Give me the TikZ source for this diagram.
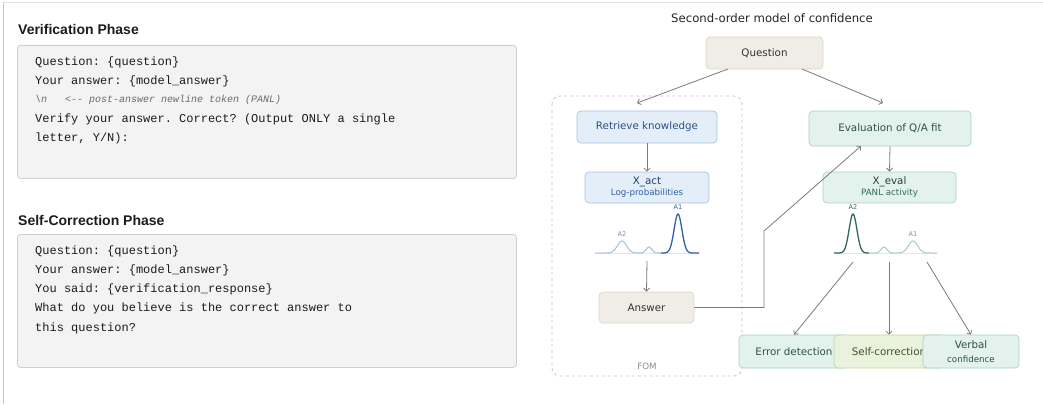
\documentclass[tikz,border=0pt]{standalone}
\usepackage{fontspec}
\setmainfont{Liberation Sans}
\setmonofont{Liberation Mono}
\newfontfamily\djsans{DejaVu Sans}
\usetikzlibrary{arrows.meta,positioning}

\definecolor{boxline}{HTML}{CFCFCF}
\definecolor{boxfill}{HTML}{F3F3F3}
\definecolor{codetxt}{HTML}{1C1C1C}
\definecolor{notegray}{HTML}{6A6A6A}
\definecolor{framegray}{HTML}{C8C8C8}
\definecolor{beigefill}{HTML}{F0EDE6}
\definecolor{beigeline}{HTML}{DCD6C8}
\definecolor{bluefill}{HTML}{E4EEF9}
\definecolor{blueline}{HTML}{A8C3E3}
\definecolor{bluetxt}{HTML}{2B5283}
\definecolor{bluedark}{HTML}{2F62A8}
\definecolor{bluelight}{HTML}{A3BFE2}
\definecolor{bluebase}{HTML}{DCE7F4}
\definecolor{greenfill}{HTML}{E3F2EC}
\definecolor{greenline}{HTML}{A9D2C1}
\definecolor{greentxt}{HTML}{2D5244}
\definecolor{greendark}{HTML}{2F6B50}
\definecolor{greenlight}{HTML}{A6CCBA}
\definecolor{greenbase}{HTML}{DCECE5}
\definecolor{olivefill}{HTML}{E9F2DC}
\definecolor{oliveline}{HTML}{BFD8A2}
\definecolor{olivetxt}{HTML}{3F5227}
\definecolor{arrgray}{HTML}{7A7A7A}
\definecolor{fomgray}{HTML}{C4C4C4}

\begin{document}
\begin{tikzpicture}[x=1pt,y=-1pt,
    phase/.style={anchor=base west, inner sep=0pt, text=codetxt, font=\bfseries\fontsize{14}{16}\selectfont},
    promptbox/.style={draw=boxline, fill=boxfill, rounded corners=3pt, line width=0.8pt, anchor=north west, inner sep=0pt},
    codeline/.style={anchor=base west, inner sep=0pt, text=codetxt, font=\ttfamily\fontsize{12}{14}\selectfont},
    noteline/.style={anchor=base west, inner sep=0pt, text=notegray, font=\ttfamily\itshape\fontsize{10}{12}\selectfont},
    box/.style={rounded corners=4pt, line width=0.7pt, inner sep=0pt, align=center, font=\djsans\fontsize{10.3}{12}\selectfont},
    beige/.style={box, draw=beigeline, fill=beigefill, text=black!80},
    bluebox/.style={box, draw=blueline, fill=bluefill, text=bluetxt},
    greenbox/.style={box, draw=greenline, fill=greenfill, text=greentxt},
    olivebox/.style={box, draw=oliveline, fill=olivefill, text=olivetxt},
    lbl/.style={inner sep=0pt, font=\djsans\fontsize{10.3}{12}\selectfont},
    sublbl/.style={inner sep=0pt, font=\djsans\fontsize{8.7}{10}\selectfont},
    peak/.style={inner sep=0pt, font=\djsans\fontsize{6.5}{8}\selectfont},
    arr/.style={draw=arrgray, line width=0.8pt, -{Straight Barb[length=3pt,width=6pt]}}]
    \useasboundingbox (0,0) rectangle (1043,404);
    \draw[framegray!50, line width=0.6pt] (3,2) -- (1043,2);
    \draw[framegray, line width=0.8pt] (3,2) -- (3,404);

    % prompts
    \node[phase] (vtitle) at (18,35) {Verification Phase};
    \node[promptbox, minimum width=499, minimum height=133] (vbox) at (17,45) {};
    \node[codeline] (v1) at (35,65) {Question: \{question\}};
    \node[codeline] (v2) at (35,84) {Your answer: \{model\_answer\}};
    \node[noteline] (v3) at (35,102) {\textbackslash n\ \ \ <-- post-answer newline token (PANL)};
    \node[codeline] (v4) at (35,122) {Verify your answer. Correct? (Output ONLY a single};
    \node[codeline] (v5) at (35,141) {letter, Y/N):};

    \node[phase] (stitle) at (18,225) {Self-Correction Phase};
    \node[promptbox, minimum width=499, minimum height=133] (sbox) at (17,234) {};
    \node[codeline] (s1) at (35,254) {Question: \{question\}};
    \node[codeline] (s2) at (35,273) {Your answer: \{model\_answer\}};
    \node[codeline] (s3) at (35,292) {You said: \{verification\_response\}};
    \node[codeline] (s4) at (35,311) {What do you believe is the correct answer to};
    \node[codeline] (s5) at (35,331) {this question?};

    % second-order model
    \node[lbl, font=\djsans\fontsize{11.7}{14}\selectfont, text=black!85] (ttl) at (772,18) {Second-order model of confidence};
    \node[beige, minimum width=117, minimum height=32] (q) at (764.5,53) {Question};
    \draw[fomgray, dashed, line width=0.8pt, rounded corners=8pt] (552,96) rectangle (742,376);
    \node[sublbl, text=black!45] (fom) at (647,366) {FOM};

    \node[bluebox, minimum width=140, minimum height=32] (ret) at (647,127) {Retrieve knowledge};
    \node[bluebox, minimum width=124, minimum height=31] (xact) at (647,187.5) {};
    \node[lbl, text=bluetxt!80!black] (xactT) at (647,182) {X\_act};
    \node[sublbl, text=bluedark] (xactS) at (647,193.5) {Log-probabilities};
    \node[beige, minimum width=95, minimum height=31] (ans) at (646.5,307.5) {Answer};

    \node[greenbox, minimum width=162, minimum height=35] (eval) at (890,128.5) {Evaluation of Q/A fit};
    \node[greenbox, minimum width=133, minimum height=31] (xeval) at (889.5,187.5) {};
    \node[lbl, text=greentxt!80!black] (xevalT) at (889.5,182) {X\_eval};
    \node[sublbl, text=greendark] (xevalS) at (889.5,193.5) {PANL activity};

    \node[greenbox, minimum width=110, minimum height=33] (err) at (794,351.5) {Error detection};
    \node[olivebox, minimum width=110, minimum height=33] (self) at (889,351.5) {Self-correction};
    \node[greenbox, minimum width=96, minimum height=33] (verb) at (971,351.5) {};
    \node[lbl, text=greentxt] (verbT) at (971,345) {Verbal};
    \node[sublbl, text=greentxt] (verbS) at (971,359) {confidence};

    % distributions
    \draw[bluebase, line width=0.6pt] (595,253) -- (699,253);
    \draw[bluelight, line width=1pt] plot[domain=595:661, samples=70, smooth]
        (\x, {253 - 12*exp(-((\x-622)/6.5)^2) - 6*exp(-((\x-649)/4)^2) - 39*exp(-((\x-678)/5.5)^2)});
    \draw[bluedark, line width=1.3pt] plot[domain=661:699, samples=50, smooth]
        (\x, {253 - 12*exp(-((\x-622)/6.5)^2) - 6*exp(-((\x-649)/4)^2) - 39*exp(-((\x-678)/5.5)^2)});
    \node[peak, text=bluedark] (la1) at (678,207) {A1};
    \node[peak, text=bluedark!70] (la2) at (622,234) {A2};

    \draw[greenbase, line width=0.6pt] (834,253) -- (937,253);
    \draw[greendark, line width=1.3pt] plot[domain=834:869, samples=50, smooth]
        (\x, {253 - 39*exp(-((\x-853)/5.5)^2) - 6*exp(-((\x-884)/4)^2) - 12*exp(-((\x-913)/6.5)^2)});
    \draw[greenlight, line width=1pt] plot[domain=869:937, samples=70, smooth]
        (\x, {253 - 39*exp(-((\x-853)/5.5)^2) - 6*exp(-((\x-884)/4)^2) - 12*exp(-((\x-913)/6.5)^2)});
    \node[peak, text=greendark] (ra2) at (853,207) {A2};
    \node[peak, text=greendark!70] (ra1) at (913,234) {A1};

    % connectors
    \coordinate (qL) at (728,69);
    \coordinate (qR) at (802,69);
    \coordinate (fomIn) at (637,103);
    \coordinate (somIn) at (883,103);
    \coordinate (lc) at (647,261);
    \coordinate (bendA) at (764,307.5);
    \coordinate (bendB) at (764,231);
    \coordinate (evIn) at (861,146);
    \coordinate (rc1) at (853,262);
    \coordinate (rc2) at (889,262);
    \coordinate (rc3) at (927,262);
    \draw[arr] (qL) -- (fomIn);
    \draw[arr] (qR) -- (somIn);
    \draw[arr] (ret.south) -- (xact.north);
    \draw[arr] (lc) -- (ans.north);
    \draw[arr] (ans.east) -- (bendA) -- (bendB) -- (evIn);
    \draw[arr] (eval.south) -- (xeval.north);
    \draw[arr] (rc1) -- (err.north);
    \draw[arr] (rc2) -- (self.north);
    \draw[arr] (rc3) -- (verb.north);
\end{tikzpicture}
\end{document}
